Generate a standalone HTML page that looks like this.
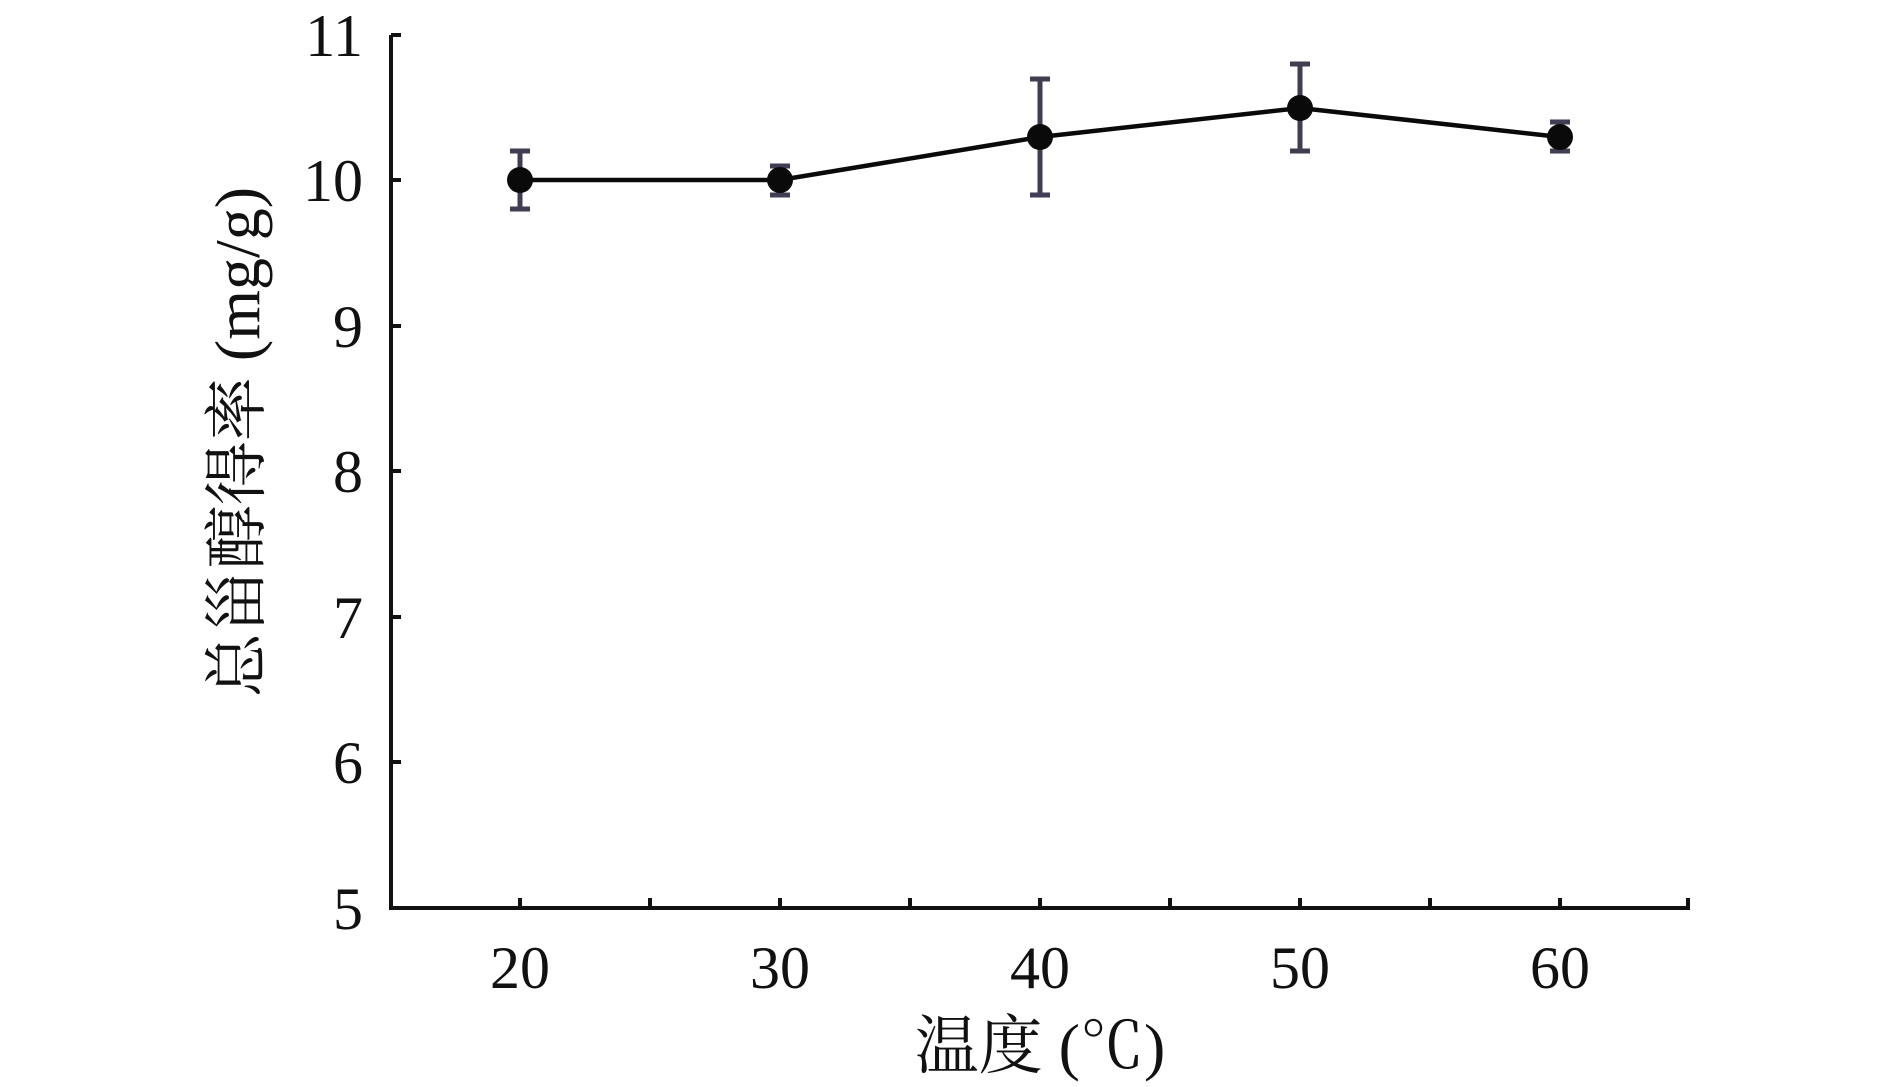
<!DOCTYPE html>
<html><head><meta charset="utf-8"><style>
html,body{margin:0;padding:0;background:#fff;}
svg{display:block;}
text{font-family:"Liberation Serif","Times New Roman",Times,"Noto Serif CJK SC",serif;fill:#111;}
</style></head><body>
<svg width="1890" height="1087" viewBox="0 0 1890 1087" xmlns="http://www.w3.org/2000/svg">
<g stroke="#111" stroke-width="4" fill="none">
<polyline points="391,35 391,908 1690,908"/>
<line x1="391" y1="35" x2="401" y2="35"/>
<line x1="391" y1="180" x2="401" y2="180"/>
<line x1="391" y1="326" x2="401" y2="326"/>
<line x1="391" y1="471" x2="401" y2="471"/>
<line x1="391" y1="617" x2="401" y2="617"/>
<line x1="391" y1="762" x2="401" y2="762"/>
<line x1="520" y1="908" x2="520" y2="898"/>
<line x1="650" y1="908" x2="650" y2="898"/>
<line x1="780" y1="908" x2="780" y2="898"/>
<line x1="910" y1="908" x2="910" y2="898"/>
<line x1="1040" y1="908" x2="1040" y2="898"/>
<line x1="1170" y1="908" x2="1170" y2="898"/>
<line x1="1300" y1="908" x2="1300" y2="898"/>
<line x1="1430" y1="908" x2="1430" y2="898"/>
<line x1="1560" y1="908" x2="1560" y2="898"/>
<line x1="1688" y1="908" x2="1688" y2="898"/>
</g>
<g stroke="#3f3e52" stroke-width="5" fill="none">
<path d="M520,151V209M510,151H530M510,209H530"/>
<path d="M780,166V195M770,166H790M770,195H790"/>
<path d="M1040,79V195M1030,79H1050M1030,195H1050"/>
<path d="M1300,64V151M1290,64H1310M1290,151H1310"/>
<path d="M1560,122V151M1550,122H1570M1550,151H1570"/>
</g>
<polyline points="520,180 780,180 1040,137 1300,108 1560,137" stroke="#0a0a0a" stroke-width="4.5" fill="none"/>
<g fill="#0a0a0a">
<circle cx="520" cy="180" r="13"/><circle cx="780" cy="180" r="13"/><circle cx="1040" cy="137" r="13"/><circle cx="1300" cy="108" r="13"/><circle cx="1560" cy="137" r="13"/>
</g>
<g font-size="60" text-anchor="end">
<text x="363" y="56">11</text>
<text x="363" y="201">10</text>
<text x="363" y="347">9</text>
<text x="363" y="492">8</text>
<text x="363" y="638">7</text>
<text x="363" y="783">6</text>
<text x="363" y="929">5</text>
</g>
<g font-size="60" text-anchor="middle">
<text x="520" y="988">20</text>
<text x="780" y="988">30</text>
<text x="1040" y="988">40</text>
<text x="1300" y="988">50</text>
<text x="1560" y="988">60</text>
</g>
<text x="1040" y="1068" font-size="64" text-anchor="middle">温度 (℃)</text>
<text transform="translate(259,442) rotate(-90)" font-size="64" text-anchor="middle">总甾醇得率 (mg/g)</text>
</svg>
</body></html>
